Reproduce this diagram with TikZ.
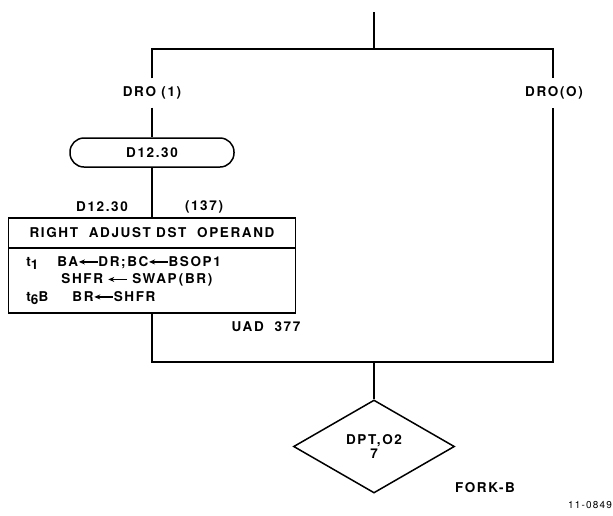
\documentclass[tikz,border=0pt]{standalone}
\usepackage{fontspec}
\setmainfont{TeX Gyre Heros}[LetterSpace=12,BoldFont={* Bold}]
\usepackage{tikz}
\usetikzlibrary{arrows.meta,shapes,positioning}

\newcommand{\lar}[1][1.4em]{\tikz[baseline=-0.6ex]\draw[line width=1.3pt,-{Stealth[length=6pt,width=5pt]}] (0,0) -- ++(-#1,0);}
\newcommand{\tsub}[1]{t\raisebox{-0.45ex}{#1}}

\tikzset{
  line/.style={line width=1.5pt},
  txt/.style={font=\fontsize{13.5}{17.5}\selectfont\bfseries},
  lbl/.style={txt, inner xsep=2pt, inner ysep=8pt},
  pill/.style={txt, draw, line width=1.5pt, rounded corners=14pt, minimum width=164pt, minimum height=29pt},
  titlebox/.style={txt, draw, line width=1.5pt, outer sep=0pt, minimum width=287pt, minimum height=30pt},
  bodybox/.style={txt, draw, line width=1.5pt, outer sep=0pt, minimum width=287pt, minimum height=65pt,
    inner xsep=0pt, text width=251pt, align=left},
  decision/.style={txt, draw, diamond, line width=1.5pt, aspect=1.73, minimum width=161pt, minimum height=93pt,
    inner sep=0pt, align=center}
}

\begin{document}
\begin{tikzpicture}[x=1pt,y=-1pt]
  \useasboundingbox (0,0) rectangle (613,515);
  \coordinate (start) at (374,12);
  \coordinate (split) at (374,49);
  \coordinate (lt) at (152,49);
  \coordinate (rt) at (553,49);
  \node[lbl] (dro1) at (152,93) {DRO (1)};
  \node[lbl] (dro0) at (554,93) {DRO(O)};
  \node[pill] (entry) at (152,152.5) {D12.30};
  \node[txt] (addr) at (102,207) {D12.30};
  \node[txt] (slot) at (204,207) {(137)};
  \node[titlebox] (title) at (152,233) {RIGHT\ \ ADJUST\ DST\ \ OPERAND};
  \node[bodybox, below=0pt of title] (body) {%
    \makebox[31pt][l]{\tsub{1}}BA\lar DR;BC\lar BSOP1\\
    \hspace*{35pt}SHFR \lar\ SWAP\,(BR)\\
    \makebox[46pt][l]{\tsub{6}B}BR\lar SHFR};
  \node[txt] (uad) at (266,327) {UAD\ \ 377};
  \coordinate (lb) at (152,362);
  \coordinate (rb) at (553,362);
  \coordinate (merge) at (374,362);
  \node[decision] (dpt) at (374,446.5) {DPT,O2\\[-3pt]7};
  \node[txt] (fork) at (485,488) {FORK-B};
  \node[font=\fontsize{10}{12}\selectfont] (fig) at (590,505) {11-0849};

  \draw[line] (start) -- (split);
  \draw[line] (dro1.north) -- (lt) -- (rt) -- (dro0.north -| rt);
  \draw[line] (dro1.south) -- (entry);
  \draw[line] (entry) -- (title);
  \draw[line] (body.south) -- (lb) -- (rb) -- (dro0.south -| rb);
  \draw[line] (merge) -- (dpt);
\end{tikzpicture}
\end{document}
